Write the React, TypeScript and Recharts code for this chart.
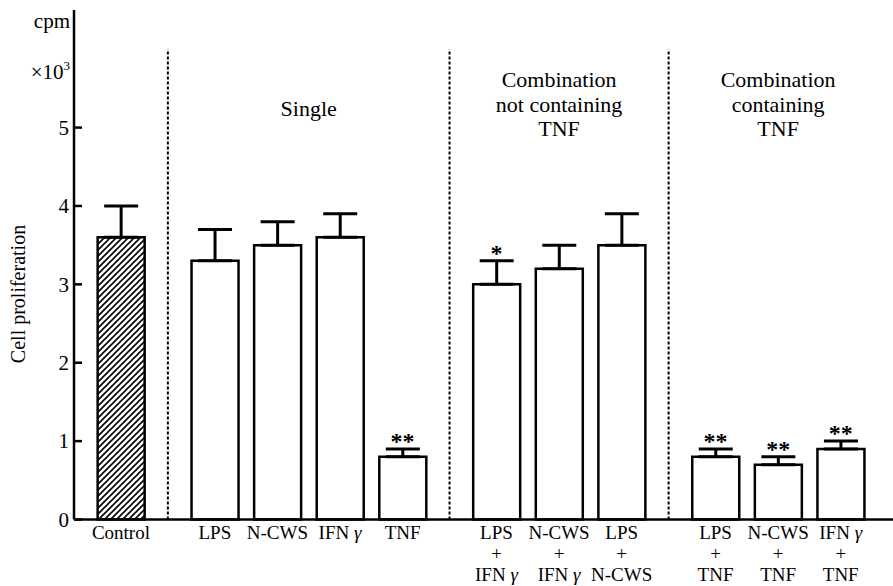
import React from 'react';
import {
  ComposedChart,
  Bar,
  Cell,
  ErrorBar,
  Scatter,
  XAxis,
  YAxis,
  ReferenceLine,
} from 'recharts';

const FONT = "'Liberation Serif', 'Times New Roman', serif";
const TXT = { fontFamily: FONT };

// treatments, one per bar, split into the lines printed under the axis
const TREATMENTS = [
  ['Control'],
  ['LPS'], ['N-CWS'], ['IFN γ'], ['TNF'],
  ['LPS', '+', 'IFN γ'], ['N-CWS', '+', 'IFN γ'], ['LPS', '+', 'N-CWS'],
  ['LPS', '+', 'TNF'], ['N-CWS', '+', 'TNF'], ['IFN γ', '+', 'TNF'],
];
const GROUP = [0, 1, 1, 1, 1, 2, 2, 2, 3, 3, 3];
const GROUP_TITLES = [
  [],
  ['Single'],
  ['Combination', 'not containing', 'TNF'],
  ['Combination', 'containing', 'TNF'],
];
// cell proliferation, cpm x10^3
const MEAN = [3.6, 3.3, 3.5, 3.6, 0.8, 3.0, 3.2, 3.5, 0.8, 0.7, 0.9];
const SE = [0.4, 0.4, 0.3, 0.3, 0.1, 0.3, 0.3, 0.4, 0.1, 0.1, 0.1];
const SIGNIF = ['', '', '', '', '**', '*', '', '', '**', '**', '**'];
const Y_TICKS = [0, 1, 2, 3, 4, 5];

// bars sit two half-slots apart inside a group, three apart across groups
const slots: number[] = [];
GROUP.forEach((g, i) => {
  slots.push(i === 0 ? 0 : slots[i - 1] + (g === GROUP[i - 1] ? 2 : 3));
});

const data = TREATMENTS.map((lines, i) => ({
  pos: slots[i],
  lines,
  mean: MEAN[i],
  err: [0, SE[i]],
  top: MEAN[i] + SE[i],
  sig: SIGNIF[i],
}));

const dividers = slots
  .map((s, i) => (i > 0 && GROUP[i] !== GROUP[i - 1] ? (slots[i - 1] + s) / 2 : null))
  .filter((v): v is number => v !== null);

const groupCenters = GROUP_TITLES.map((_, g) => {
  const own = slots.filter((_, i) => GROUP[i] === g);
  return own.reduce((a, b) => a + b, 0) / own.length;
});

const withGamma = (s: string) =>
  s.endsWith('γ') ? (
    <>
      {s.slice(0, -1)}
      <tspan fontStyle="italic">γ</tspan>
    </>
  ) : (
    s
  );

const XTick = ({ x, y, payload }: any) => {
  const row = data.find((d) => d.pos === payload.value);
  if (!row) return null;
  return (
    <g>
      {row.lines.map((ln, k) => (
        <text
          key={k}
          x={x}
          y={y + 19.5 + k * 21}
          textAnchor="middle"
          style={TXT}
          fontSize={19}
          fill="#000"
        >
          {withGamma(ln)}
        </text>
      ))}
    </g>
  );
};

const YTick = ({ x, y, payload }: any) => (
  <g>
    <line x1={x} x2={x + 8} y1={y} y2={y} stroke="#000" strokeWidth={2.5} />
    <text x={x - 5} y={y} dy="0.35em" textAnchor="end" style={TXT} fontSize={21} fill="#000">
      {payload.value}
    </text>
  </g>
);

const AxisCaption = () => (
  <g fill="#000">
    <text x={70} y={28} textAnchor="end" style={TXT} fontSize={21}>cpm</text>
    <text x={70} y={79} textAnchor="end" style={TXT} fontSize={21}>
      ×10<tspan fontSize={13} dy={-9}>3</tspan>
    </text>
    <text x={25} y={294} transform="rotate(-90 25 294)" textAnchor="middle" style={TXT} fontSize={20}>
      Cell proliferation
    </text>
  </g>
);

const GroupTitle = ({ viewBox, lines }: any) => {
  if (!viewBox || !lines.length) return null;
  const first = lines.length === 1 ? 106 : 77;
  return (
    <g>
      {lines.map((ln: string, k: number) => (
        <text
          key={k}
          x={viewBox.x}
          y={viewBox.y + first + k * 24.5}
          textAnchor="middle"
          style={TXT}
          fontSize={22}
          fill="#000"
        >
          {ln}
        </text>
      ))}
    </g>
  );
};

const Star = (p: any) =>
  p.payload && p.payload.sig ? (
    <text x={p.cx} y={p.cy} textAnchor="middle" style={TXT} fontWeight="bold" fontSize={24} fill="#000">
      {p.payload.sig}
    </text>
  ) : (
    <g />
  );

export default function App() {
  return (
    <div style={{ position: 'absolute', left: 0, top: 0, background: '#fff' }}>
      <ComposedChart
        width={893}
        height={586}
        data={data}
        margin={{ top: 10, right: 0, bottom: 6.5, left: 0 }}
      >
        <defs>
          <pattern id="hatch" patternUnits="userSpaceOnUse" width={6} height={6}>
            <path d="M-1,1 l2,-2 M0,6 l6,-6 M5,7 l2,-2" stroke="#000" strokeWidth={1.6} />
          </pattern>
        </defs>
        <XAxis
          type="number"
          dataKey="pos"
          domain={[-1.5, 24.67]}
          ticks={slots}
          interval={0}
          tickLine={false}
          tickSize={0}
          tickMargin={0}
          height={60}
          axisLine={{ stroke: '#000', strokeWidth: 2.5 }}
          tick={<XTick />}
        />
        <YAxis
          type="number"
          domain={[0, 6.5]}
          ticks={Y_TICKS}
          width={74}
          tickLine={false}
          tickSize={0}
          tickMargin={0}
          axisLine={{ stroke: '#000', strokeWidth: 2.5 }}
          tick={<YTick />}
          label={<AxisCaption />}
        />
        {dividers.map((d) => (
          <ReferenceLine
            key={d}
            segment={[{ x: d, y: 0 }, { x: d, y: 6 }]}
            stroke="#000"
            strokeWidth={2}
            strokeDasharray="3 2"
          />
        ))}
        {GROUP_TITLES.map((lines, g) =>
          lines.length ? (
            <ReferenceLine
              key={`t${g}`}
              x={groupCenters[g]}
              stroke="none"
              label={<GroupTitle lines={lines} />}
            />
          ) : null
        )}
        <Bar
          dataKey="mean"
          barSize={47}
          fill="#fff"
          stroke="#000"
          strokeWidth={2.5}
          isAnimationActive={false}
        >
          {data.map((d, i) => (
            <Cell key={i} fill={i === 0 ? 'url(#hatch)' : '#fff'} />
          ))}
          <ErrorBar dataKey="err" direction="y" width={17} stroke="#000" strokeWidth={3} />
        </Bar>
        <Scatter dataKey="top" shape={<Star />} isAnimationActive={false} />
      </ComposedChart>
    </div>
  );
}
